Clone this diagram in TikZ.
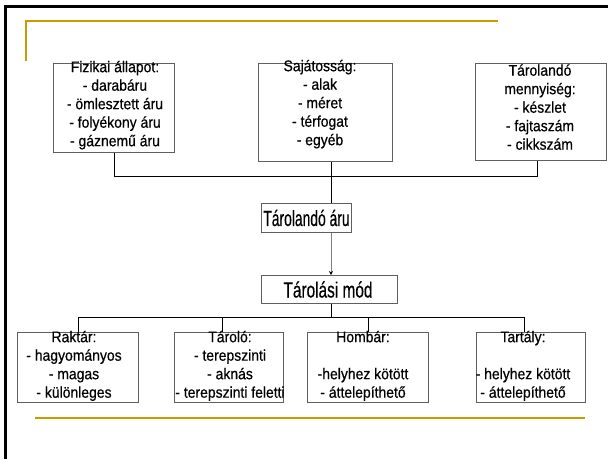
\documentclass[tikz,border=0pt]{standalone}
\usepackage{fontspec}
\setmainfont{Liberation Sans}[FakeBold=0.5, FakeStretch=0.9]
\newfontfamily\bigf{Liberation Sans}[FakeBold=0.5]
\usetikzlibrary{arrows.meta}
\definecolor{gold}{RGB}{204,153,0}
\definecolor{boxgray}{RGB}{95,95,95}
\newcommand\firststrut{\rule{0pt}{12pt}}
\tikzset{
  bx/.style={draw=boxgray, line width=0.9pt, inner sep=0pt, anchor=north west},
  txt/.style={inner sep=0pt, anchor=north, align=center, font=\fontsize{15.5}{18.5}\selectfont},
  conn/.style={line width=0.8pt, black},
}
\begin{document}
\begin{tikzpicture}[x=1pt,y=-1pt]
\useasboundingbox (0,0) rectangle (608,459);
% frame
\draw[line width=3pt] (5.5,459) -- (5.5,6.5) -- (608,6.5);
% gold lines
\draw[gold, line width=1.2pt] (26,61) -- (26,21) -- (498,21);
\draw[gold, line width=2pt] (35,418) -- (585,418);
% top boxes
\node[bx, minimum width=121pt, minimum height=89pt] (b1) at (53,63) {};
\node[bx, minimum width=134pt, minimum height=98pt] (b2) at (258,63) {};
\node[bx, minimum width=131pt, minimum height=97pt] (b3) at (475,63) {};
\node[txt] (t1) at (115,60) {\firststrut Fizikai állapot:\\- darabáru\\- ömlesztett áru\\- folyékony áru\\- gáznemű áru};
\node[txt] (t2) at (320,59) {\firststrut Sajátosság:\\- alak\\- méret\\- térfogat\\- egyéb};
\node[txt] (t3) at (540,63.5) {\firststrut Tárolandó\\mennyiség:\\- készlet\\- fajtaszám\\- cikkszám};
% middle boxes
\node[bx, minimum width=90pt, minimum height=29pt] (ta) at (261,203) {};
\node[bx, minimum width=136pt, minimum height=28pt] (tm) at (261,275) {};
\node[inner sep=0pt] (tat) at (306.5,218) {\scalebox{0.63}[1]{\bigf\fontsize{22}{26}\selectfont Tárolandó áru}};
\node[inner sep=0pt] (tmt) at (328,289.5) {\scalebox{0.70}[1]{\bigf\fontsize{22}{26}\selectfont Tárolási mód}};
% bottom boxes
\node[bx, minimum width=121pt, minimum height=70pt] (r) at (17,332) {};
\node[bx, minimum width=109pt, minimum height=70pt] (t) at (174,332) {};
\node[bx, minimum width=121pt, minimum height=70pt] (h) at (307,332) {};
\node[bx, minimum width=109pt, minimum height=70pt] (k) at (476,332) {};
\node[txt] (rt) at (74,330) {\firststrut Raktár:\\- hagyományos\\- magas\\- különleges};
\node[txt] (tt) at (230,330) {\firststrut Tároló:\\- terepszinti\\- aknás\\- terepszinti feletti};
\node[txt] (ht) at (363,330) {\firststrut Hombár:\\[18.5pt]-helyhez kötött\\- áttelepíthető};
\node[txt] (kt) at (523,330) {\firststrut Tartály:\\[18.5pt]- helyhez kötött\\- áttelepíthető};
% connectors
\coordinate (jtop) at (331,176);
\coordinate (jbot) at (331,317);
\draw[conn] (b1.south) |- ([xshift=-3.5pt]b3.south |- jtop) -- ([xshift=-3.5pt]b3.south);
\draw[conn] (jtop |- b2.south) -- (jtop |- ta.north);
\draw[draw=gray, line width=0.8pt, -{Stealth[length=4pt,width=4pt,black]}] (jtop |- ta.south) -- (jtop |- tm.north);
\draw[conn] (jbot |- tm.south) -- (jbot);
\draw[conn] (r.north) |- ([xshift=-6.5pt]k.north |- jbot) -- ([xshift=-6.5pt]k.north);
\draw[conn] ([xshift=-6.5pt]t.north) -- ([xshift=-6.5pt]t.north |- jbot);
\draw[conn] (h.north) -- (h.north |- jbot);
\end{tikzpicture}
\end{document}
